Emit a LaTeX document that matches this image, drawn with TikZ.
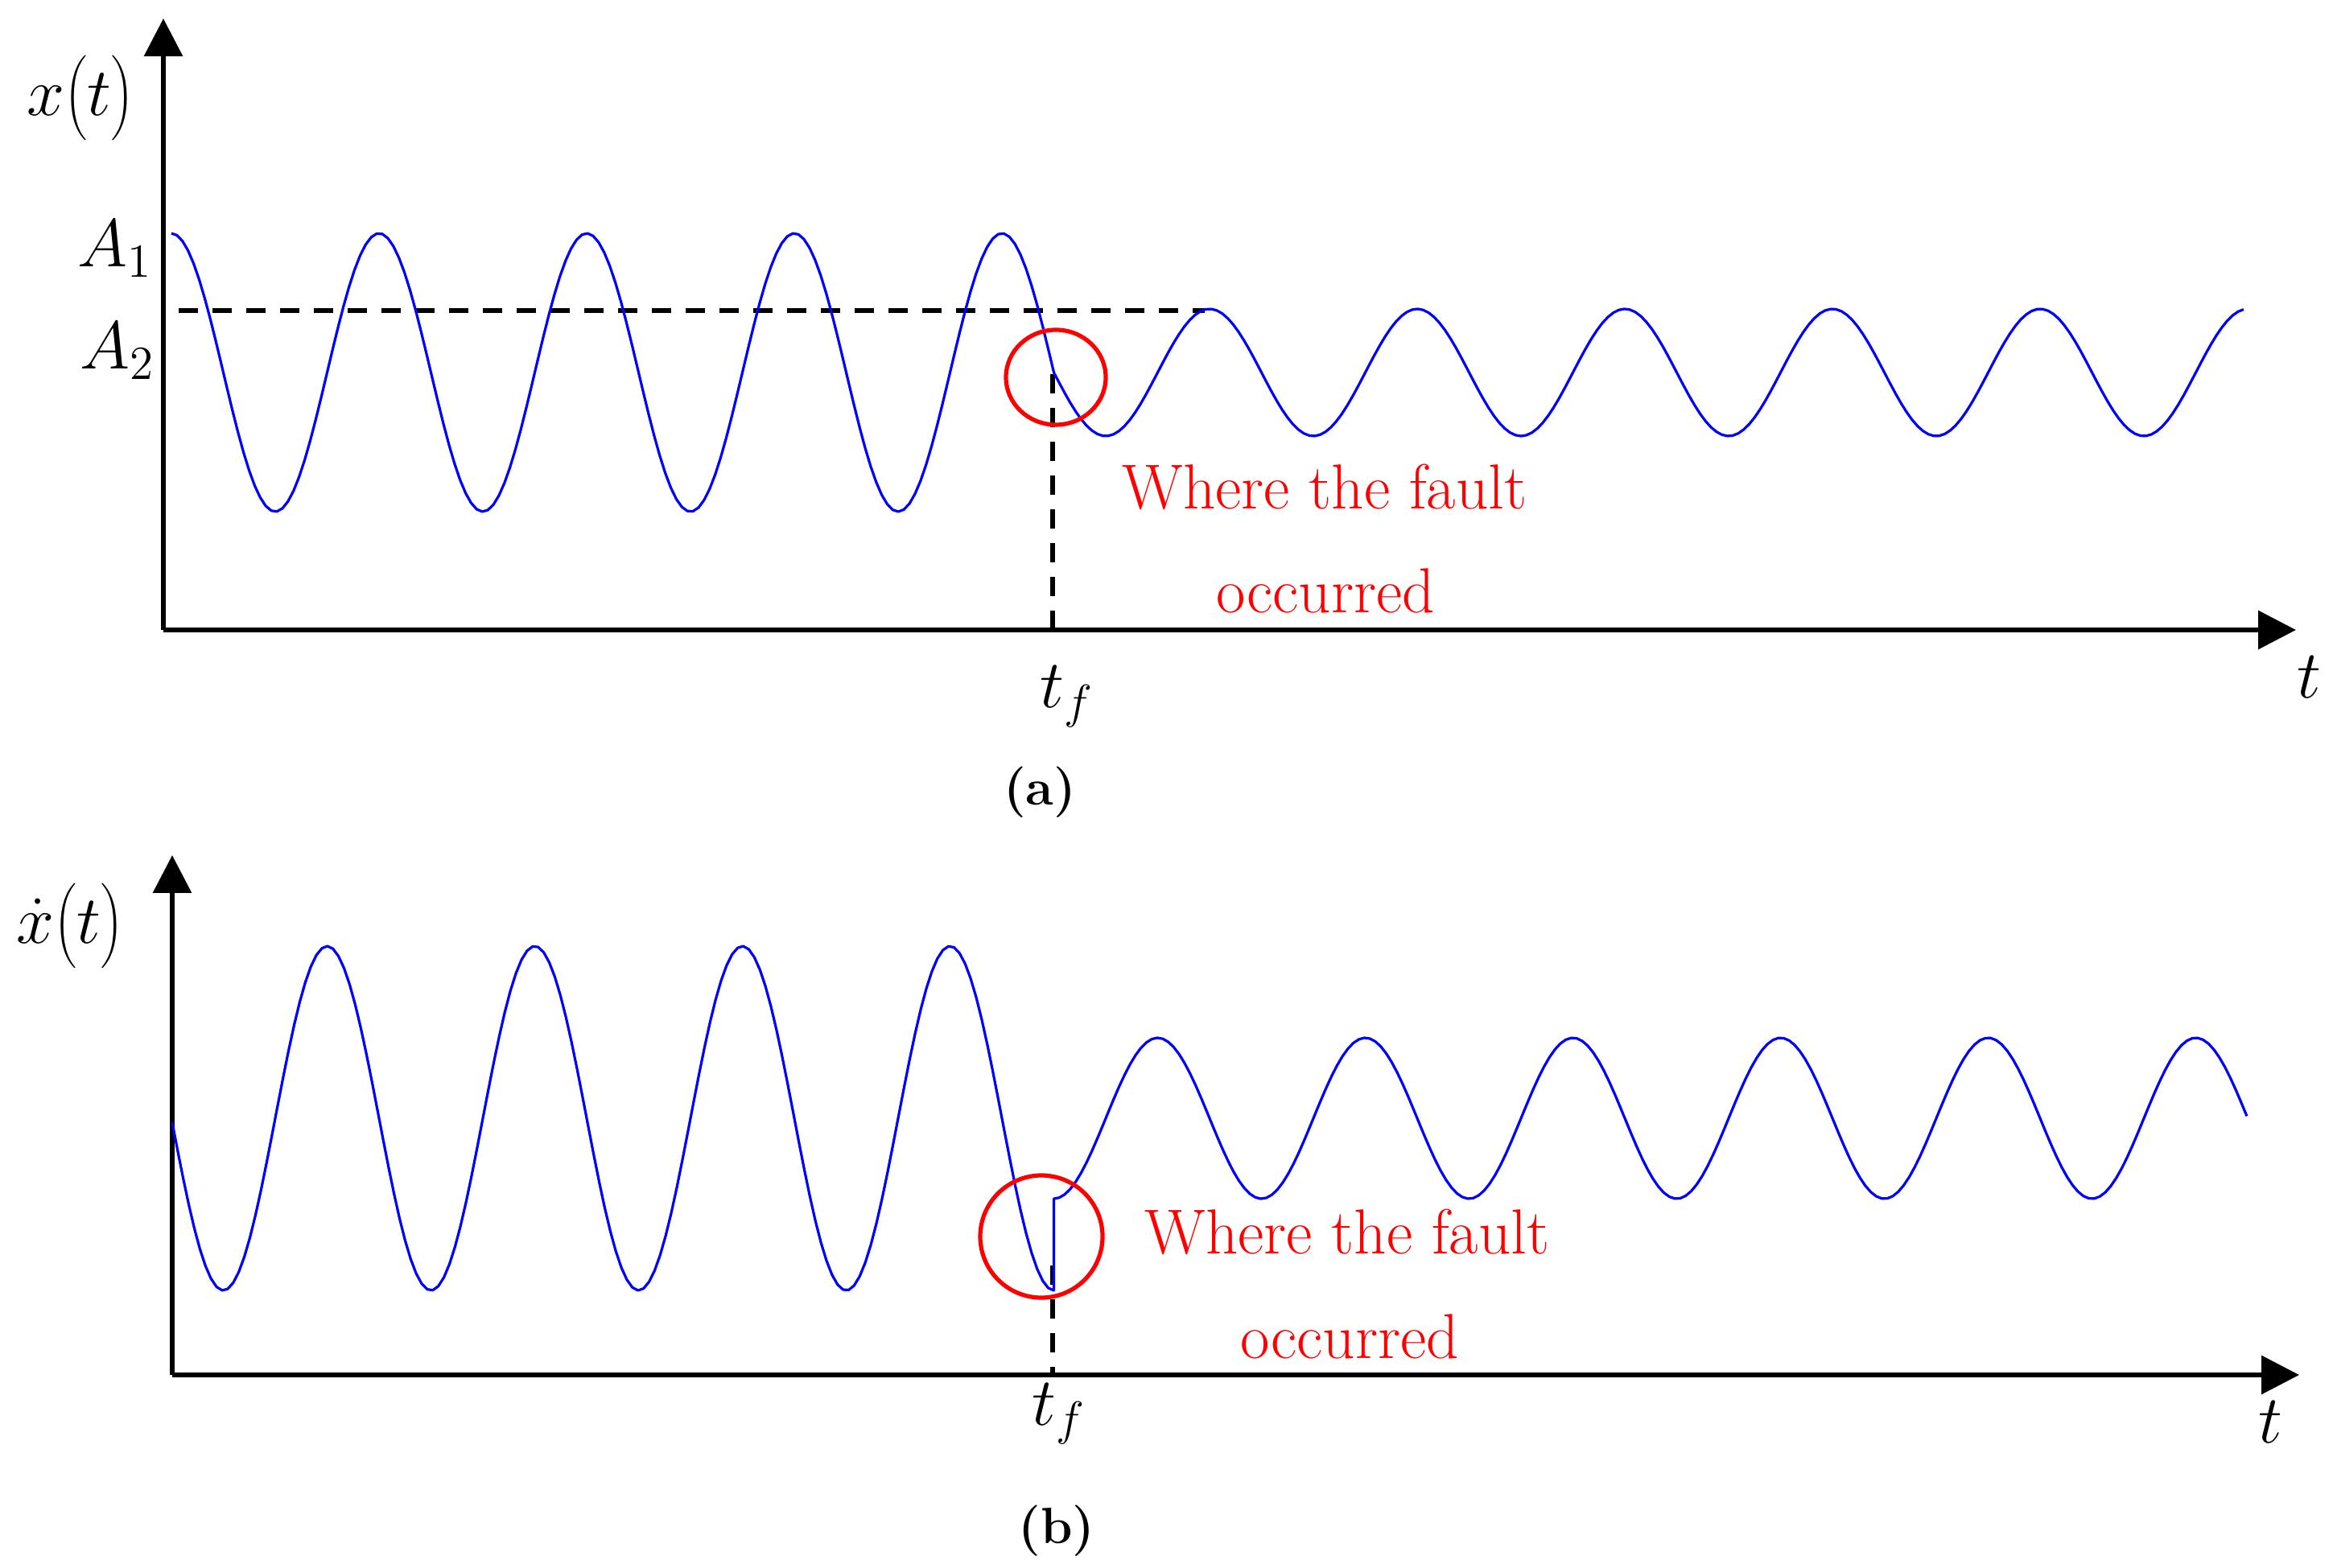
\documentclass[tikz,border=0pt]{standalone}
\usepackage{fix-cm}
\usetikzlibrary{arrows.meta}
\newcommand{\tallparen}[1]{{\left(\vcenter{\hbox{\rule{0pt}{27pt}}}#1\right)}}

\begin{document}
\begin{tikzpicture}[
   axis/.style={line width=0.065cm, -{Triangle[length=0.47cm, width=0.47cm]}},
   guide/.style={line width=0.06cm, dash pattern=on 0.24cm off 0.18cm},
   wave/.style={blue, line width=0.032cm, line join=round},
   fault/.style={red, line width=0.052cm},
   redtext/.style={red, anchor=base, font=\fontsize{22.5}{27}\selectfont},
   mathlbl/.style={font=\fontsize{24}{29}\selectfont},
   caption/.style={font=\fontsize{18}{22}\selectfont\bfseries}]%
   \useasboundingbox (0, 0) rectangle (28.99, 19.48);

   % (a) the signal
   \coordinate (Oa) at (2.03, 11.65);
   \coordinate (Ya) at (2.03, 19.25);
   \coordinate (Ta) at (28.53, 11.65);
   \draw[axis] (Oa) -- (Ya);
   \draw[axis] (Oa) -- (Ta);
   \coordinate (A2l) at (2.22, 15.62);
   \coordinate (A2r) at (14.97, 15.62);
   \coordinate (tfa) at (13.08, 14.83);
   \coordinate (tfa0) at (13.08, 11.65);
   \draw[guide] (A2l) -- (A2r);
   \draw[guide] (tfa) -- (tfa0);
   \draw[wave] plot[domain=2.13:13.095, samples=160] (\x, {14.85-1.73*sin(360*(\x-13.095)/2.58)})
      -- plot[domain=13.095:27.88, samples=220] (\x, {14.85-0.79*sin(360*(\x-13.095)/2.58)});
   \draw[fault] (13.12, 14.79) circle [x radius=0.62, y radius=0.59];
   \draw (1.0, 18.26) node (xlab) [mathlbl] {$x\tallparen{t}$};
   \draw (1.43, 16.16) node (A1) [mathlbl, anchor=base] {$A_1$};
   \draw (1.46, 14.89) node (A2) [mathlbl, anchor=base] {$A_2$};
   \draw (13.26, 10.68) node (tfla) [mathlbl, anchor=base] {$t_f$};
   \draw (28.69, 10.80) node (tla) [mathlbl, anchor=base] {$t$};
   \draw (16.46, 13.15) node (wa) [redtext] {Where the fault};
   \draw (16.47, 11.86) node (oa) [redtext] {occurred};
   \draw (12.92, 9.63) node (capa) [caption] {(a)};

   % (b) its derivative
   \coordinate (Ob) at (2.14, 2.39);
   \coordinate (Yb) at (2.14, 8.85);
   \coordinate (Tb) at (28.57, 2.39);
   \draw[axis] (Ob) -- (Yb);
   \draw[axis] (Ob) -- (Tb);
   \coordinate (tfb) at (13.08, 3.75);
   \coordinate (tfb0) at (13.08, 2.39);
   \draw[guide] (tfb) -- (tfb0);
   \draw[wave] plot[domain=2.14:13.095, samples=160] (\x, {5.58-2.14*cos(360*(\x-13.095)/2.58)})
      -- plot[domain=13.095:27.92, samples=220] (\x, {5.58-1.00*cos(360*(\x-13.095)/2.58)});
   \draw[fault] (12.94, 4.11) circle [radius=0.76];
   \draw (0.87, 7.97) node (dxlab) [mathlbl] {$\dot{x}\tallparen{t}$};
   \draw (13.16, 1.77) node (tflb) [mathlbl, anchor=base] {$t_f$};
   \draw (28.21, 1.55) node (tlb) [mathlbl, anchor=base] {$t$};
   \draw (16.74, 3.90) node (wb) [redtext] {Where the fault};
   \draw (16.77, 2.60) node (ob) [redtext] {occurred};
   \draw (13.13, 0.45) node (capb) [caption] {(b)};
\end{tikzpicture}
\end{document}
